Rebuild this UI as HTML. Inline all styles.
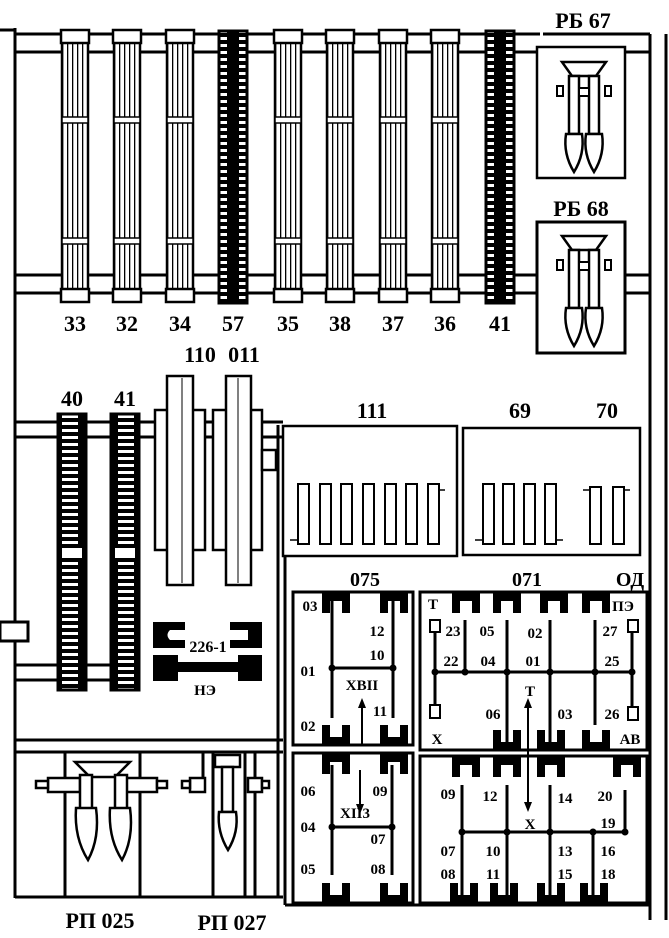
<!DOCTYPE html>
<html><head><meta charset="utf-8"><style>
html,body{margin:0;padding:0;background:#fff}
svg{display:block}
text{font-family:"Liberation Serif","DejaVu Serif",serif;font-weight:bold;fill:#000}
</style></head><body>
<svg width="669" height="938" viewBox="0 0 669 938" xmlns="http://www.w3.org/2000/svg">
<defs>
<pattern id="dash" width="28" height="7" patternUnits="userSpaceOnUse"><rect width="28" height="7" fill="#000"/><rect x="6" y="2" width="16" height="3" fill="#fff"/></pattern>
<pattern id="vl" width="5" height="10" patternUnits="userSpaceOnUse"><rect width="5" height="10" fill="#fff"/><rect x="2" width="1.3" height="10" fill="#000"/></pattern>
<g id="lc">
<rect x="-13" y="42" width="26" height="248" fill="url(#vl)" stroke="#000" stroke-width="2.5"/>
<rect x="-14" y="30" width="28" height="13" fill="#fff" stroke="#000" stroke-width="2.5"/>
<rect x="-14" y="289" width="28" height="13" fill="#fff" stroke="#000" stroke-width="2.5"/>
<rect x="-13" y="117" width="26" height="6" fill="#fff" stroke="#000" stroke-width="1.5"/>
<rect x="-13" y="238" width="26" height="6" fill="#fff" stroke="#000" stroke-width="1.5"/>
</g>
<g id="dc">
<rect x="-14" y="31" width="28" height="272" fill="url(#dash)" stroke="#000" stroke-width="3"/>
</g>
<g id="gun">
<path d="M-22 0 H22 L12 14 H-12 Z" fill="#fff" stroke="#000" stroke-width="2.5"/>
<rect x="-15" y="14" width="10" height="58" fill="#fff" stroke="#000" stroke-width="2.5"/>
<rect x="5" y="14" width="10" height="58" fill="#fff" stroke="#000" stroke-width="2.5"/>
<rect x="-5" y="26" width="10" height="8" fill="#fff" stroke="#000" stroke-width="2"/>
<rect x="-27" y="24" width="6" height="10" fill="#fff" stroke="#000" stroke-width="2"/>
<rect x="21" y="24" width="6" height="10" fill="#fff" stroke="#000" stroke-width="2"/>
<path d="M-18 72 h16 q3 20 -8 38 q-11 -18 -8 -38z" fill="#fff" stroke="#000" stroke-width="2.5"/>
<path d="M2 72 h16 q3 20 -8 38 q-11 -18 -8 -38z" fill="#fff" stroke="#000" stroke-width="2.5"/>
</g>
<g id="ct"><path d="M0 0 H28 V20 H20 V8 H8 V20 H0 Z" fill="#000"/></g>
<g id="cb"><path d="M0 22 H28 V2 H20 V14 H8 V2 H0 Z" fill="#000"/></g>
</defs>

<g stroke="#000" stroke-width="3" fill="none">
<!-- top rail -->
<line x1="15" y1="34" x2="540" y2="34"/>
<line x1="15" y1="52" x2="537" y2="52"/>
<line x1="15" y1="275" x2="537" y2="275"/>
<line x1="15" y1="293" x2="537" y2="293"/>
<line x1="625" y1="34" x2="650" y2="34"/>
<line x1="625" y1="52" x2="650" y2="52"/>
<line x1="625" y1="275" x2="650" y2="275"/>
<line x1="625" y1="293" x2="650" y2="293"/>
<line x1="15" y1="28" x2="15" y2="898"/>
<line x1="0" y1="30" x2="15" y2="30"/>
<line x1="650" y1="34" x2="650" y2="920"/>
<line x1="666" y1="34" x2="666" y2="920"/>
<line x1="543" y1="34" x2="650" y2="34"/>
</g>

<use href="#lc" x="75"/><use href="#lc" x="127"/><use href="#lc" x="180"/>
<use href="#dc" x="233"/>
<use href="#lc" x="288"/><use href="#lc" x="340"/><use href="#lc" x="393"/><use href="#lc" x="445"/>
<use href="#dc" x="500"/>

<g font-size="22" text-anchor="middle">
<text x="75" y="331">33</text><text x="127" y="331">32</text><text x="180" y="331">34</text><text x="233" y="331">57</text><text x="288" y="331">35</text><text x="340" y="331">38</text><text x="393" y="331">37</text><text x="445" y="331">36</text><text x="500" y="331">41</text>
<text x="583" y="28">РБ 67</text><text x="581" y="216">РБ 68</text>
<text x="72" y="406">40</text><text x="125" y="406">41</text>
<text x="200" y="362">110</text><text x="244" y="362">011</text>
<text x="372" y="418">111</text><text x="520" y="418">69</text><text x="607" y="418">70</text>
<text x="100" y="928">РП 025</text><text x="232" y="930">РП 027</text>
</g>

<rect x="537" y="47" width="88" height="131" fill="#fff" stroke="#000" stroke-width="2.5"/>
<rect x="537" y="222" width="88" height="131" fill="#fff" stroke="#000" stroke-width="3"/>
<use href="#gun" x="584" y="62"/>
<use href="#gun" x="584" y="236"/>

<!-- middle rails -->
<g stroke="#000" stroke-width="3" fill="none">
<line x1="15" y1="422" x2="283" y2="422"/>
<line x1="15" y1="437" x2="283" y2="437"/>
<line x1="15" y1="665" x2="118" y2="665"/>
<line x1="15" y1="680" x2="118" y2="680"/>
<line x1="15" y1="740" x2="283" y2="740"/>
<line x1="15" y1="752" x2="283" y2="752"/>
<line x1="15" y1="897" x2="283" y2="897"/>
<line x1="278" y1="425" x2="278" y2="898"/>
<line x1="285" y1="555" x2="285" y2="905"/>
<line x1="285" y1="905" x2="650" y2="905"/>
</g>
<rect x="0" y="622" width="28" height="19" fill="#fff" stroke="#000" stroke-width="3"/>
<rect x="58" y="414" width="28" height="276" fill="url(#dash)" stroke="#000" stroke-width="3"/>
<rect x="111" y="414" width="28" height="276" fill="url(#dash)" stroke="#000" stroke-width="3"/>
<rect x="62" y="548" width="20" height="10" fill="#fff"/><rect x="115" y="548" width="20" height="10" fill="#fff"/>

<g fill="#fff" stroke="#000" stroke-width="2.5">
<rect x="155" y="410" width="50" height="140"/>
<rect x="167" y="376" width="26" height="209"/>
<rect x="213" y="410" width="49" height="140"/>
<rect x="226" y="376" width="25" height="209"/>
<rect x="262" y="450" width="14" height="20"/>
</g>
<line x1="182" y1="378" x2="182" y2="583" stroke="#000" stroke-width="1"/>
<line x1="238" y1="378" x2="238" y2="583" stroke="#000" stroke-width="1"/>

<!-- 111 / 69-70 -->
<rect x="283" y="426" width="174" height="130" fill="#fff" stroke="#000" stroke-width="2.5"/>
<rect x="463" y="428" width="177" height="127" fill="#fff" stroke="#000" stroke-width="2.5"/>
<g fill="#fff" stroke="#000" stroke-width="2">
<rect x="298" y="484" width="11" height="60"/><rect x="320" y="484" width="11" height="60"/><rect x="341" y="484" width="11" height="60"/><rect x="363" y="484" width="11" height="60"/><rect x="385" y="484" width="11" height="60"/><rect x="406" y="484" width="11" height="60"/><rect x="428" y="484" width="11" height="60"/>
<rect x="483" y="484" width="11" height="60"/><rect x="503" y="484" width="11" height="60"/><rect x="524" y="484" width="11" height="60"/><rect x="545" y="484" width="11" height="60"/>
<rect x="590" y="487" width="11" height="57"/><rect x="613" y="487" width="11" height="57"/>
</g>
<g stroke="#000" stroke-width="1.5">
<line x1="290" y1="540" x2="298" y2="540"/><line x1="439" y1="490" x2="445" y2="490"/>
<line x1="475" y1="540" x2="483" y2="540"/><line x1="556" y1="540" x2="563" y2="540"/>
<line x1="583" y1="490" x2="590" y2="490"/><line x1="624" y1="490" x2="630" y2="490"/>
</g>

<!-- 226-1 -->
<path d="M153 622 H185 V630 H170 Q165 635 170 640 H185 V648 H153 Z" fill="#000"/>
<path d="M230 622 H262 V648 H230 V640 H248 V630 H230 Z" fill="#000"/>
<path d="M153 655 H178 V662 H238 V655 H262 V681 H238 V672 H178 V681 H153 Z" fill="#000"/>
<text x="208" y="652" font-size="16" text-anchor="middle">226-1</text>
<text x="205" y="695" font-size="15" text-anchor="middle">НЭ</text>

<!-- bottom left -->
<g stroke="#000" stroke-width="3" fill="none">
<line x1="65" y1="752" x2="65" y2="897"/><line x1="140" y1="752" x2="140" y2="897"/>
<line x1="203" y1="752" x2="203" y2="785"/><line x1="213" y1="752" x2="213" y2="897"/>
<line x1="245" y1="752" x2="245" y2="897"/><line x1="255" y1="752" x2="255" y2="897"/>
</g>
<g fill="#fff" stroke="#000" stroke-width="2.5">
<rect x="48" y="778" width="32" height="14"/><rect x="36" y="781" width="12" height="7"/>
<rect x="125" y="778" width="32" height="14"/><rect x="157" y="781" width="10" height="7"/>
<path d="M75 762 H130 L115 777 H90 Z"/>
<rect x="80" y="775" width="12" height="40"/><rect x="115" y="775" width="12" height="40"/>
<path d="M76 808 h20 q4 30 -8 52 q-14 -22 -12 -52z"/>
<path d="M110 808 h20 q4 30 -8 52 q-14 -22 -12 -52z"/>
<rect x="190" y="778" width="15" height="14"/><rect x="182" y="781" width="8" height="7"/>
<rect x="248" y="778" width="14" height="14"/><rect x="262" y="781" width="7" height="7"/>
<rect x="215" y="755" width="25" height="12"/>
<rect x="222" y="767" width="11" height="45"/>
<path d="M219 812 h17 q3 20 -8 38 q-11 -18 -9 -38z"/>
</g>

<!-- 075 / 071 -->
<g font-size="20" text-anchor="middle">
<text x="365" y="586">075</text><text x="527" y="586">071</text><text x="630" y="586">ОД</text>
</g>
<g fill="none" stroke="#000" stroke-width="3">
<rect x="293" y="592" width="120" height="153"/>
<rect x="293" y="753" width="120" height="150"/>
<rect x="420" y="592" width="227" height="158"/>
<rect x="420" y="756" width="227" height="147"/>
</g>
<use href="#ct" x="322" y="593"/><use href="#ct" x="380" y="593"/>
<use href="#cb" x="322" y="723"/><use href="#cb" x="380" y="723"/>
<use href="#ct" x="322" y="754"/><use href="#ct" x="380" y="754"/>
<use href="#cb" x="322" y="881"/><use href="#cb" x="380" y="881"/>
<use href="#ct" x="452" y="593"/><use href="#ct" x="493" y="593"/><use href="#ct" x="540" y="593"/><use href="#ct" x="582" y="593"/>
<use href="#cb" x="493" y="728"/><use href="#cb" x="537" y="728"/><use href="#cb" x="582" y="728"/>
<use href="#ct" x="452" y="757"/><use href="#ct" x="493" y="757"/><use href="#ct" x="537" y="757"/><use href="#ct" x="613" y="757"/>
<use href="#cb" x="450" y="881"/><use href="#cb" x="490" y="881"/><use href="#cb" x="537" y="881"/><use href="#cb" x="580" y="881"/>

<g stroke="#000" stroke-width="3" fill="none">
<line x1="332" y1="600" x2="332" y2="718"/><line x1="393" y1="600" x2="393" y2="718"/><line x1="332" y1="668" x2="393" y2="668"/>
<line x1="332" y1="765" x2="332" y2="875"/><line x1="392" y1="765" x2="392" y2="875"/><line x1="332" y1="827" x2="392" y2="827"/>
<line x1="435" y1="632" x2="435" y2="705"/><line x1="465" y1="620" x2="465" y2="672"/><line x1="507" y1="620" x2="507" y2="750"/><line x1="550" y1="620" x2="550" y2="750"/><line x1="595" y1="620" x2="595" y2="725"/><line x1="632" y1="632" x2="632" y2="707"/>
<line x1="435" y1="672" x2="632" y2="672"/>
<line x1="462" y1="785" x2="462" y2="895"/><line x1="507" y1="785" x2="507" y2="895"/><line x1="550" y1="785" x2="550" y2="895"/><line x1="593" y1="832" x2="593" y2="895"/><line x1="625" y1="790" x2="625" y2="832"/>
<line x1="462" y1="832" x2="625" y2="832"/>
</g>
<g stroke="#000" stroke-width="2" fill="none">
<line x1="362" y1="745" x2="362" y2="704"/><line x1="360" y1="770" x2="360" y2="808"/>
<line x1="528" y1="752" x2="528" y2="704"/><line x1="528" y1="752" x2="528" y2="806"/>
<rect x="430" y="620" width="10" height="12" fill="#fff"/><rect x="430" y="705" width="10" height="13" fill="#fff"/>
<rect x="628" y="620" width="10" height="12" fill="#fff"/><rect x="628" y="707" width="10" height="13" fill="#fff"/>
</g>
<g fill="#000">
<path d="M362 698 l-4 10 h8z"/><path d="M360 814 l-4 -10 h8z"/><path d="M528 698 l-4 10 h8z"/><path d="M528 812 l-4 -10 h8z"/>
<circle cx="332" cy="668" r="3.5"/><circle cx="393" cy="668" r="3.5"/><circle cx="332" cy="827" r="3.5"/><circle cx="392" cy="827" r="3.5"/>
<circle cx="435" cy="672" r="3.5"/><circle cx="465" cy="672" r="3.5"/><circle cx="507" cy="672" r="3.5"/><circle cx="550" cy="672" r="3.5"/><circle cx="595" cy="672" r="3.5"/><circle cx="632" cy="672" r="3.5"/>
<circle cx="462" cy="832" r="3.5"/><circle cx="507" cy="832" r="3.5"/><circle cx="550" cy="832" r="3.5"/><circle cx="593" cy="832" r="3.5"/><circle cx="625" cy="832" r="3.5"/>
</g>
<g font-size="15" text-anchor="middle">
<text x="310" y="611">03</text><text x="377" y="636">12</text><text x="377" y="660">10</text><text x="308" y="676">01</text><text x="362" y="690">ХВII</text><text x="380" y="716">11</text><text x="308" y="731">02</text>
<text x="308" y="796">06</text><text x="380" y="796">09</text><text x="355" y="818">ХII3</text><text x="308" y="832">04</text><text x="378" y="844">07</text><text x="308" y="874">05</text><text x="378" y="874">08</text>
<text x="433" y="609">Т</text><text x="453" y="636">23</text><text x="487" y="636">05</text><text x="535" y="638">02</text><text x="623" y="611">ПЭ</text><text x="610" y="636">27</text>
<text x="451" y="666">22</text><text x="488" y="666">04</text><text x="533" y="666">01</text><text x="612" y="666">25</text>
<text x="530" y="696">Т</text><text x="493" y="719">06</text><text x="565" y="719">03</text><text x="612" y="719">26</text><text x="437" y="744">Х</text><text x="630" y="744">АВ</text>
<text x="448" y="799">09</text><text x="490" y="801">12</text><text x="565" y="803">14</text><text x="605" y="801">20</text><text x="530" y="829">Х</text><text x="608" y="828">19</text>
<text x="448" y="856">07</text><text x="493" y="856">10</text><text x="565" y="856">13</text><text x="608" y="856">16</text>
<text x="448" y="879">08</text><text x="493" y="879">11</text><text x="565" y="879">15</text><text x="608" y="879">18</text>
</g>
</svg>
</body></html>
